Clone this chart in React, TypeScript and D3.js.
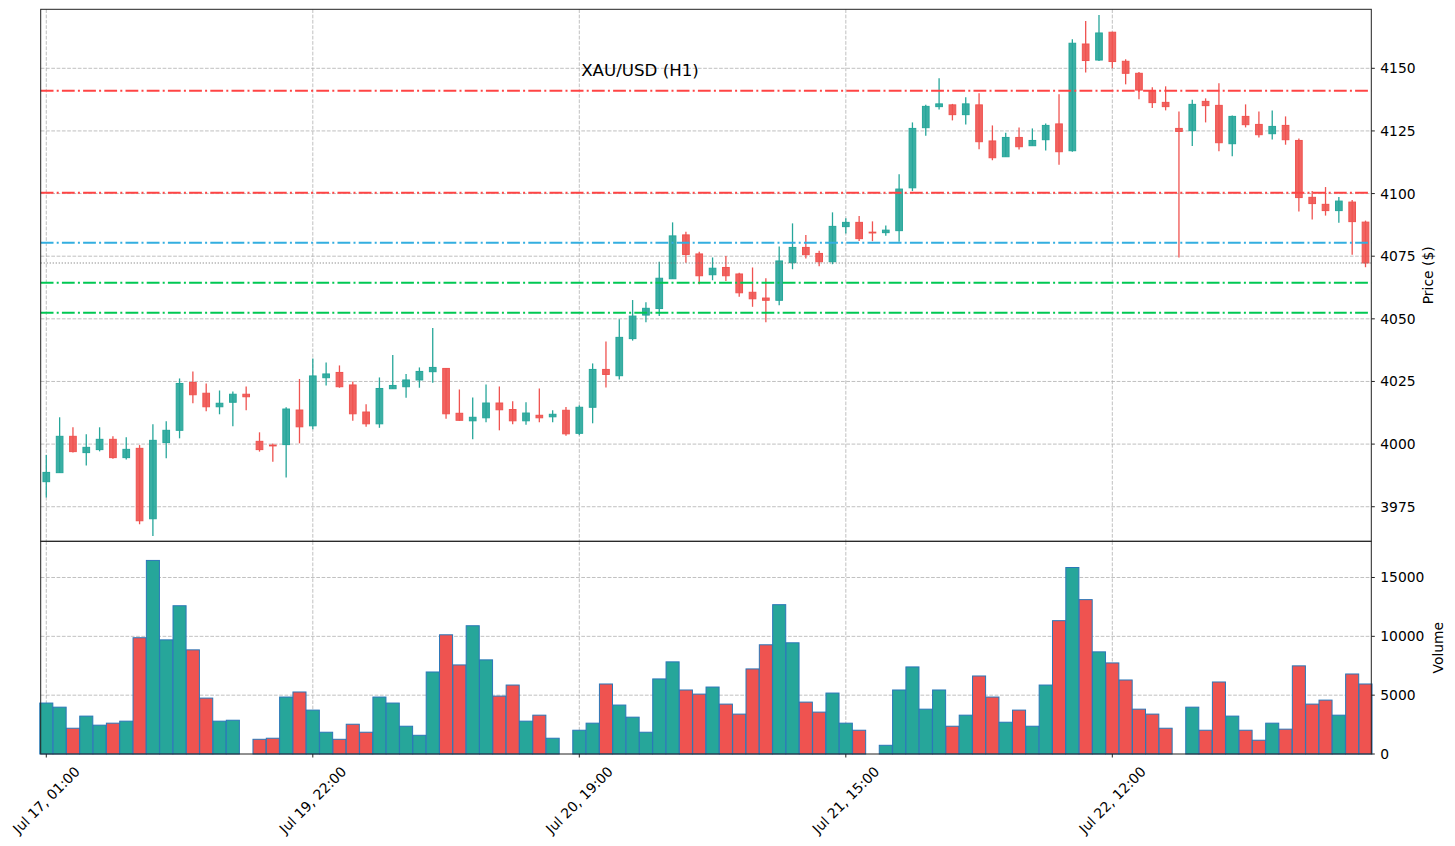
import * as d3 from "d3";

// XAU/USD hourly candles with a volume panel below (index-based x axis).
const opens = [
  3985.0, 3988.6, 4003.1, 3996.6, 3997.8, 4001.9, 3994.6, 3998.3, 3970.2, 4000.6,
  4005.5, 4024.6, 4020.3, 4014.9, 4016.7, 4019.9, 4001.1, 3999.6, 3999.8, 4013.6,
  4007.3, 4026.5, 4028.6, 4023.6, 4012.8, 4008.1, 4022.1, 4022.9, 4025.6, 4028.9,
  4030.2, 4012.3, 4009.3, 4010.5, 4016.4, 4013.8, 4009.3, 4011.5, 4010.9, 4013.5,
  4004.3, 4014.7, 4029.8, 4027.3, 4042.1, 4051.5, 4054.1, 4066.0, 4083.5, 4075.9,
  4067.6, 4070.5, 4067.9, 4060.6, 4058.3, 4057.4, 4072.4, 4078.5, 4076.1, 4072.8,
  4086.8, 4088.5, 4084.6, 4084.4, 4085.2, 4102.3, 4126.3, 4134.7, 4135.4, 4131.5,
  4135.4, 4121.0, 4114.7, 4122.4, 4119.1, 4121.5, 4127.8, 4117.1, 4159.7, 4153.3,
  4164.4, 4152.8, 4148.0, 4141.1, 4136.4, 4126.0, 4125.1, 4136.8, 4135.2, 4119.9,
  4130.8, 4127.6, 4123.9, 4127.2, 4121.2, 4098.5, 4095.7, 4093.2, 4096.6, 4088.6,
];
const highs = [
  3995.6, 4010.7, 4006.7, 4003.9, 4006.7, 4003.1, 4002.7, 3999.6, 4007.9, 4009.1,
  4026.2, 4029.0, 4024.2, 4021.4, 4021.0, 4023.0, 4004.7, 4000.2, 4014.7, 4026.0,
  4034.2, 4032.6, 4031.4, 4025.0, 4015.9, 4026.6, 4035.6, 4028.0, 4030.6, 4046.3,
  4030.4, 4021.8, 4018.6, 4023.8, 4023.0, 4017.1, 4016.7, 4022.2, 4013.5, 4014.8,
  4015.5, 4032.2, 4041.0, 4049.8, 4057.5, 4056.6, 4072.8, 4088.5, 4084.8, 4076.8,
  4074.5, 4075.1, 4068.4, 4070.5, 4066.2, 4078.9, 4088.1, 4083.5, 4077.2, 4092.5,
  4090.1, 4091.0, 4088.9, 4087.3, 4107.7, 4128.4, 4135.5, 4146.0, 4135.8, 4138.4,
  4140.0, 4127.2, 4124.3, 4126.4, 4126.0, 4128.0, 4139.6, 4161.6, 4168.9, 4171.3,
  4164.6, 4153.6, 4148.5, 4142.4, 4142.8, 4132.8, 4137.4, 4138.0, 4144.0, 4131.2,
  4135.6, 4132.8, 4133.2, 4130.8, 4122.0, 4101.0, 4102.6, 4098.6, 4097.4, 4089.2,
];
const lows = [
  3978.7, 3988.5, 3996.6, 3991.5, 3997.1, 3994.2, 3993.9, 3968.0, 3963.3, 3994.3,
  4002.3, 4016.3, 4013.1, 4011.9, 4007.1, 4013.5, 3997.0, 3993.0, 3986.7, 4000.3,
  4005.9, 4023.4, 4022.5, 4009.3, 4006.9, 4006.5, 4022.0, 4018.5, 4022.5, 4024.5,
  4010.1, 4009.3, 4001.9, 4008.7, 4005.5, 4007.9, 4007.7, 4008.7, 4008.7, 4003.3,
  4003.5, 4008.3, 4022.6, 4025.8, 4041.3, 4048.6, 4051.1, 4066.0, 4072.4, 4063.8,
  4065.4, 4065.1, 4058.8, 4054.8, 4048.6, 4055.4, 4069.8, 4074.1, 4071.0, 4071.8,
  4084.1, 4081.1, 4081.0, 4083.2, 4080.8, 4101.0, 4123.1, 4133.6, 4129.2, 4127.6,
  4117.7, 4113.3, 4114.7, 4117.6, 4119.1, 4117.2, 4111.5, 4116.7, 4148.3, 4152.9,
  4150.0, 4143.6, 4137.6, 4134.2, 4133.2, 4074.5, 4119.0, 4128.4, 4116.9, 4114.9,
  4126.4, 4122.4, 4121.6, 4119.5, 4092.8, 4089.6, 4091.2, 4088.4, 4075.6, 4070.6,
];
const closes = [
  3988.7, 4003.1, 3997.0, 3998.7, 4001.9, 3994.6, 3997.9, 3969.4, 4001.5, 4005.5,
  4024.2, 4019.7, 4014.9, 4016.3, 4019.9, 4018.9, 3997.8, 3999.4, 4014.0, 4006.9,
  4027.2, 4028.0, 4022.9, 4012.1, 4008.1, 4022.2, 4023.4, 4025.6, 4029.0, 4030.6,
  4012.1, 4009.5, 4010.7, 4016.4, 4013.7, 4009.3, 4012.4, 4010.5, 4011.9, 4004.1,
  4014.7, 4029.8, 4027.8, 4042.6, 4051.1, 4054.2, 4066.2, 4083.1, 4075.7, 4067.2,
  4070.2, 4067.2, 4060.4, 4058.0, 4057.4, 4073.1, 4078.5, 4075.6, 4072.8, 4086.9,
  4088.5, 4082.0, 4084.4, 4085.4, 4101.8, 4126.0, 4134.8, 4135.8, 4131.5, 4135.8,
  4120.7, 4114.3, 4122.4, 4118.7, 4121.2, 4127.2, 4116.7, 4160.0, 4153.1, 4164.1,
  4152.7, 4148.0, 4141.3, 4136.3, 4134.7, 4124.8, 4135.6, 4135.1, 4120.3, 4130.8,
  4127.5, 4123.5, 4126.8, 4121.5, 4098.4, 4096.0, 4093.2, 4097.0, 4088.8, 4072.3,
];
const volumes = [
  4330, 3980, 2190, 3220, 2450, 2620, 2790, 9880, 16450, 9700,
  12600, 8850, 4750, 2790, 2870, 0, 1250, 1340, 4840, 5270,
  3730, 1850, 1250, 2530, 1850, 4840, 4330, 2360, 1590, 6970,
  10130, 7570, 10900, 8000, 4920, 5860, 2790, 3300, 1340, 0,
  2020, 2620, 5950, 4160, 3130, 1850, 6380, 7830, 5440, 5090,
  5690, 4240, 3390, 7230, 9280, 12690, 9450, 4410, 3560, 5180,
  2620, 2020, 0, 740, 5440, 7400, 3810, 5440, 2360, 3300,
  6630, 4840, 2700, 3730, 2360, 5860, 11330, 15850, 13120, 8680,
  7740, 6290, 3810, 3390, 2190, 0, 3980, 2020, 6120, 3220,
  2020, 1170, 2620, 2110, 7490, 4240, 4580, 3300, 6800, 5950,
];

const xTickIdx = [0, 20, 40, 60, 80];
const xTickLabels = ["Jul 17, 01:00", "Jul 19, 22:00", "Jul 20, 19:00", "Jul 21, 15:00", "Jul 22, 12:00"];
const priceTicks = [3975, 4000, 4025, 4050, 4075, 4100, 4125, 4150];
const volumeTicks = [0, 5000, 10000, 15000];

// support / resistance levels
const levelValues = [4141.0, 4100.3, 4080.4, 4064.4, 4052.4];
const levelColors = ["#ff4444", "#ff4444", "#33aee0", "#00c853", "#00c853"];

const UP = "#26a69a";
const DOWN = "#ef5350";
const FONT = "DejaVu Sans, sans-serif";

const W = 1455;
const H = 846;
const L = 40.7;
const R = 1371.3;
const PT = 9.3;
const PB = 541.3;
const VB = 754;

const x = d3.scaleLinear().domain([-0.42, 99.435]).range([L, R]);
const yP = d3.scaleLinear().domain([3961.2, 4173.55]).range([PB, PT]);
const yV = d3.scaleLinear().domain([0, 18076]).range([VB, PB]);

export default function App() {
  const step = x(1) - x(0);
  const bodyW = step * 0.5;
  const barW = step * 0.98;
  const last = closes[closes.length - 1];
  return (
    <svg
      width={W}
      height={H}
      viewBox={`0 0 ${W} ${H}`}
      style={{ position: "absolute", left: 0, top: 0, background: "#fff", fontFamily: FONT }}
    >
      <rect x={0} y={0} width={W} height={H} fill="#fff" />

      {/* grid */}
      <g stroke="#b0b0b0" strokeWidth={0.8} strokeDasharray="3.7,1.6">
        {priceTicks.map((t) => (
          <line key={"gp" + t} x1={L} x2={R} y1={yP(t)} y2={yP(t)} />
        ))}
        {volumeTicks.slice(1).map((t) => (
          <line key={"gv" + t} x1={L} x2={R} y1={yV(t)} y2={yV(t)} />
        ))}
        {xTickIdx.map((i) => (
          <g key={"gx" + i}>
            <line x1={x(i)} x2={x(i)} y1={PT} y2={PB} />
            <line x1={x(i)} x2={x(i)} y1={PB} y2={VB} />
          </g>
        ))}
      </g>

      {/* candles */}
      {opens.map((o, i) => {
        const c = closes[i];
        const col = c >= o ? UP : DOWN;
        const top = yP(Math.max(o, c));
        const bot = yP(Math.min(o, c));
        return (
          <g key={"c" + i}>
            <line x1={x(i)} x2={x(i)} y1={yP(highs[i])} y2={yP(lows[i])} stroke={col} strokeWidth={1.3} />
            <rect
              x={x(i) - bodyW / 2}
              y={top}
              width={bodyW}
              height={Math.max(bot - top, 0.8)}
              fill={col}
              fillOpacity={0.9}
              stroke={col}
              strokeWidth={1}
            />
          </g>
        );
      })}

      {/* levels */}
      {levelValues.map((v, k) => (
        <line
          key={"lv" + k}
          x1={L}
          x2={R}
          y1={yP(v)}
          y2={yP(v)}
          stroke={levelColors[k]}
          strokeWidth={2}
          strokeDasharray="12.8,3.2,2,3.2"
        />
      ))}
      <line x1={L} x2={R} y1={yP(last)} y2={yP(last)} stroke="#777" strokeWidth={1.1} strokeDasharray="1.1,1.9" />

      {/* volume bars */}
      {volumes.map((v, i) =>
        v > 0 ? (
          <rect
            key={"v" + i}
            x={x(i) - barW / 2}
            y={yV(v)}
            width={barW}
            height={yV(0) - yV(v)}
            fill={closes[i] >= opens[i] ? UP : DOWN}
            stroke="#2a77b8"
            strokeWidth={1}
          />
        ) : null
      )}

      <text x={640} y={75.5} textAnchor="middle" fontSize={16.67} fill="#000">
        XAU/USD (H1)
      </text>

      {/* frames */}
      <g fill="none" stroke="#222" strokeWidth={1}>
        <rect x={L} y={PT} width={R - L} height={PB - PT} />
        <rect x={L} y={PB} width={R - L} height={VB - PB} />
      </g>

      {/* right axes */}
      <g fontSize={13.89} fill="#000">
        {priceTicks.map((t) => (
          <g key={"tp" + t}>
            <line x1={R} x2={R + 3.5} y1={yP(t)} y2={yP(t)} stroke="#222" strokeWidth={1} />
            <text x={R + 9} y={yP(t)} dominantBaseline="central">
              {t}
            </text>
          </g>
        ))}
        {volumeTicks.map((t) => (
          <g key={"tv" + t}>
            <line x1={R} x2={R + 3.5} y1={yV(t)} y2={yV(t)} stroke="#222" strokeWidth={1} />
            <text x={R + 9} y={yV(t)} dominantBaseline="central">
              {t}
            </text>
          </g>
        ))}
        <text transform={`translate(1428,${(PT + PB) / 2}) rotate(-90)`} textAnchor="middle" dominantBaseline="central">
          Price ($)
        </text>
        <text transform={`translate(1438,${(PB + VB) / 2}) rotate(-90)`} textAnchor="middle" dominantBaseline="central">
          Volume
        </text>
        {xTickIdx.map((i, k) => (
          <g key={"tx" + i}>
            <line x1={x(i)} x2={x(i)} y1={VB} y2={VB + 3.5} stroke="#222" strokeWidth={1} />
            <text
              transform={`translate(${x(i)},800) rotate(-45)`}
              textAnchor="middle"
              dominantBaseline="central"
            >
              {xTickLabels[k]}
            </text>
          </g>
        ))}
      </g>
    </svg>
  );
}
